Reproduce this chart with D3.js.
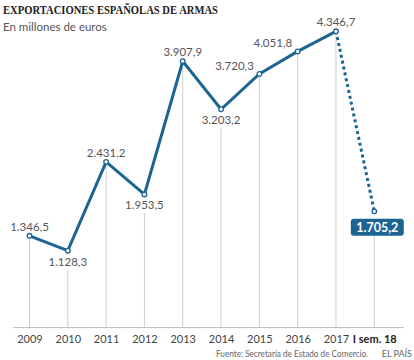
<!DOCTYPE html>
<html>
<head>
<meta charset="utf-8">
<script src="https://cdn.jsdelivr.net/npm/d3@7"></script>
<style>
  html, body { margin: 0; padding: 0; background: #fff; }
  svg { display: block; }
</style>
</head>
<body>
<svg id="chart" width="414" height="360"></svg>
<script>
const categories = ["2009","2010","2011","2012","2013","2014","2015","2016","2017","I sem. 18"];
const values = [1346.5, 1128.3, 2431.2, 1953.5, 3907.9, 3203.2, 3720.3, 4051.8, 4346.7, 1705.2];
const valueLabels = ["1.346,5","1.128,3","2.431,2","1.953,5","3.907,9","3.203,2","3.720,3","4.051,8","4.346,7","1.705,2"];
const labelPlacement = ["above","below","above","below","above","below","left","left","above","box"];
const title = "EXPORTACIONES ESPAÑOLAS DE ARMAS";
const subtitle = "En millones de euros";
const source = "Fuente: Secretaría de Estado de Comercio.";
const brand = "EL PAÍS";

const blue = "#1c6491";
const svg = d3.select("#chart");

const x = d3.scalePoint().domain(categories).range([29.5, 374.3]).padding(0);
const y = d3.scaleLinear().domain([0, 4346.7]).range([327.6, 31.3]);

const data = categories.map((c, i) => ({ c, v: values[i], label: valueLabels[i], pos: labelPlacement[i] }));

// title
svg.append("text").attr("x", 3).attr("y", 14)
  .attr("font-family", "'Liberation Serif', 'DejaVu Serif', serif")
  .attr("font-weight", "bold").attr("font-size", 12).attr("fill", "#222")
  .attr("textLength", 215).attr("lengthAdjust", "spacingAndGlyphs")
  .text(title);
svg.append("text").attr("x", 3).attr("y", 31)
  .attr("font-family", "Lato, 'Open Sans', sans-serif")
  .attr("font-size", 11.5).attr("fill", "#555")
  .text(subtitle);

// vertical guide lines
function guideTop(d) {
  const py = y(d.v);
  if (d.pos === "below") return py + 19;
  if (d.pos === "box") return py + 24;
  return py;
}
svg.append("g").selectAll("line").data(data).join("line")
  .attr("x1", d => x(d.c)).attr("x2", d => x(d.c))
  .attr("y1", d => guideTop(d)).attr("y2", y(0))
  .attr("stroke", "#cfcfcf").attr("stroke-width", 1);

// baseline axis
const axis = d3.axisBottom(x).tickSize(0).tickPadding(8);
const gAxis = svg.append("g").attr("transform", `translate(0,${y(0)})`).call(axis);
gAxis.select(".domain").remove();
svg.append("line").attr("x1", 13).attr("x2", 404).attr("y1", y(0)).attr("y2", y(0))
  .attr("stroke", "#bdbdbd").attr("stroke-width", 1);
gAxis.selectAll("text")
  .attr("font-family", "Lato, 'Open Sans', sans-serif")
  .attr("font-size", 11)
  .attr("font-weight", d => d === "I sem. 18" ? "bold" : "normal")
  .attr("fill", d => d === "I sem. 18" ? "#222" : "#444");

// lines
const line = d3.line().x(d => x(d.c)).y(d => y(d.v));
svg.append("path").datum(data.slice(0, 9)).attr("d", line)
  .attr("fill", "none").attr("stroke", blue).attr("stroke-width", 3)
  .attr("stroke-linejoin", "miter");
svg.append("path").datum(data.slice(8, 10)).attr("d", line)
  .attr("fill", "none").attr("stroke", blue).attr("stroke-width", 3)
  .attr("stroke-dasharray", "3,3");

// points
svg.append("g").selectAll("circle").data(data).join("circle")
  .attr("cx", d => x(d.c)).attr("cy", d => y(d.v)).attr("r", 2.3)
  .attr("fill", "#fff").attr("stroke", blue).attr("stroke-width", 1.3);

// value labels
const lbl = svg.append("g")
  .attr("font-family", "Lato, 'Open Sans', sans-serif")
  .attr("font-size", 11.5).attr("fill", "#555");
data.filter(d => d.pos !== "box").forEach(d => {
  const px = x(d.c), py = y(d.v);
  const t = lbl.append("text").text(d.label);
  if (d.pos === "above") t.attr("x", px).attr("y", py - 5).attr("text-anchor", "middle");
  else if (d.pos === "below") t.attr("x", px).attr("y", py + 15).attr("text-anchor", "middle");
  else t.attr("x", px - 5.5).attr("y", py - 4).attr("text-anchor", "end");
});

// boxed label
data.filter(d => d.pos === "box").forEach(d => {
  const px = x(d.c), py = y(d.v);
  svg.append("rect").attr("x", px - 23.5).attr("y", py + 7.5).attr("width", 53).attr("height", 17)
    .attr("rx", 3).attr("fill", blue);
  svg.append("text").attr("x", px + 3).attr("y", py + 20.5).attr("text-anchor", "middle")
    .attr("font-family", "Lato, 'Open Sans', sans-serif").attr("font-weight", "bold")
    .attr("font-size", 12.5).attr("fill", "#fff").text(d.label);
});

// footer
svg.append("text").attr("x", 216).attr("y", 357)
  .attr("font-family", "Lato, 'Open Sans', sans-serif")
  .attr("font-size", 8.5).attr("fill", "#666")
  .attr("textLength", 152).attr("lengthAdjust", "spacingAndGlyphs")
  .text(source);
svg.append("text").attr("x", 412).attr("y", 357).attr("text-anchor", "end")
  .attr("font-family", "Lato, 'Open Sans', sans-serif")
  .attr("font-size", 9).attr("fill", "#666").text(brand);
</script>
</body>
</html>
